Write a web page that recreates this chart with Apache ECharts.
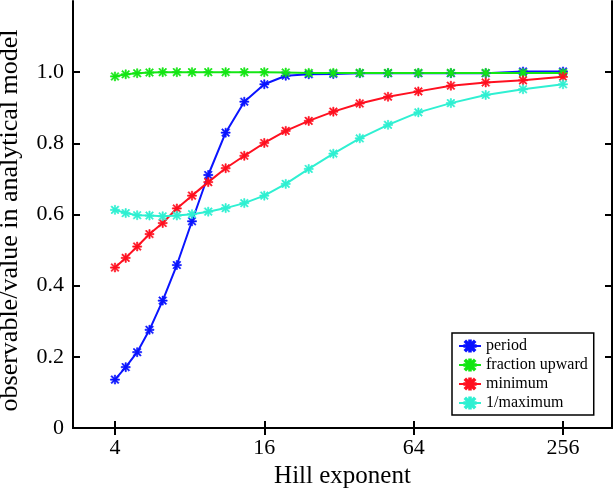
<!DOCTYPE html>
<html>
<head>
<meta charset="utf-8">
<script src="https://cdn.jsdelivr.net/npm/echarts@6/dist/echarts.min.js"></script>
<style>
  html, body { margin: 0; padding: 0; background: #fff; }
  #chart { width: 614px; height: 489px; }
</style>
</head>
<body>
<div id="chart"></div>
<script>
// Hill exponents sampled (log-log spaced)
const hill = [4, 4.419, 4.916, 5.511, 6.229, 7.103, 8.177, 9.508, 11.175, 13.288, 16,
  19.52, 24.16, 30.37, 38.80, 50.45, 66.85, 90.39, 124.9, 176.6, 256]

const period = [0.136, 0.171, 0.213, 0.276, 0.358, 0.458, 0.581, 0.711, 0.830, 0.917, 0.966,
  0.990, 0.994, 0.995, 0.997, 0.997, 0.997, 0.997, 0.997, 1.002, 1.002]
const fractionUpward = [0.988, 0.994, 0.997, 0.999, 1.0, 1.0, 1.0, 1.0, 1.0, 1.0, 1.0,
  0.999, 0.998, 0.998, 0.998, 0.998, 0.998, 0.998, 0.998, 0.998, 0.998]
const minimum = [0.451, 0.478, 0.510, 0.545, 0.576, 0.617, 0.653, 0.691, 0.730, 0.765, 0.801,
  0.835, 0.863, 0.889, 0.912, 0.931, 0.946, 0.962, 0.971, 0.977, 0.987]
const invMaximum = [0.613, 0.604, 0.598, 0.597, 0.595, 0.597, 0.601, 0.608, 0.618, 0.632, 0.653,
  0.686, 0.728, 0.771, 0.814, 0.852, 0.887, 0.913, 0.936, 0.952, 0.966]

const xTicks = [4, 16, 64, 256]
const yTicks = [0, 0.2, 0.4, 0.6, 0.8, 1.0]

const font = 'Liberation Serif'
// asterisk marker (plus + cross)
const star = 'path://M4.3,0h1.4v10h-1.4z M0,4.3h10v1.4h-10z' +
  ' M1.5,0.5L9.5,8.5L8.5,9.5L0.5,1.5z M8.5,0.5L9.5,1.5L1.5,9.5L0.5,8.5z'

function pts(vals) {
  return vals.map((v, i) => [Math.log2(hill[i]), v])
}
function line(name, vals, color) {
  return {
    name: name,
    type: 'line',
    data: pts(vals),
    symbol: star,
    symbolSize: 9,
    showSymbol: true,
    lineStyle: { color: color, width: 2 },
    itemStyle: { color: color, borderColor: color, borderWidth: 0.6 },
    emphasis: { disabled: true },
    z: 3
  }
}

const chart = echarts.init(document.getElementById('chart'))
const xBase = {
  type: 'value',
  min: 1.438,
  max: 8.656,
  axisLine: { lineStyle: { color: '#000', width: 2 } },
  axisTick: { inside: true, length: 7, lineStyle: { color: '#000', width: 2 }, customValues: xTicks.map(Math.log2) },
  splitLine: { show: false }
}
const yBase = {
  type: 'value',
  min: 0,
  max: 1.2,
  axisLine: { lineStyle: { color: '#000', width: 2 } },
  axisTick: { inside: true, length: 7, lineStyle: { color: '#000', width: 2 }, customValues: yTicks },
  splitLine: { show: false }
}

chart.setOption({
  animation: false,
  backgroundColor: '#fff',
  grid: { left: 73, right: 2, top: 1, bottom: 61, outerBoundsMode: 'none', containLabel: false },
  legend: {
    orient: 'vertical',
    left: 452,
    top: 333,
    itemWidth: 22,
    itemHeight: 14,
    itemGap: 3,
    padding: [5, 6, 4, 6],
    borderColor: '#000',
    borderWidth: 1.5,
    backgroundColor: '#fff',
    textStyle: { fontFamily: font, fontSize: 16, color: '#000' },
    data: ['period', 'fraction upward', 'minimum', '1/maximum']
  },
  xAxis: [
    Object.assign({}, xBase, {
      position: 'bottom',
      name: 'Hill exponent',
      nameLocation: 'middle',
      nameGap: 35,
      nameTextStyle: { fontFamily: font, fontSize: 25, color: '#000' },
      axisLabel: {
        customValues: xTicks.map(Math.log2),
        margin: 9,
        fontFamily: font, fontSize: 22, color: '#000',
        formatter: v => String(Math.round(Math.pow(2, v)))
      }
    }),
    Object.assign({}, xBase, { position: 'top', axisLabel: { show: false } })
  ],
  yAxis: [
    Object.assign({}, yBase, {
      position: 'left',
      name: 'observable/value in analytical model',
      nameLocation: 'middle',
      nameGap: 50,
      nameTextStyle: { fontFamily: font, fontSize: 26, color: '#000', padding: [0, 12, 0, 0] },
      axisLabel: {
        customValues: yTicks,
        margin: 9,
        fontFamily: font, fontSize: 22, color: '#000',
        formatter: v => v === 0 ? '0' : v.toFixed(1)
      }
    }),
    Object.assign({}, yBase, { position: 'right', axisLabel: { show: false } })
  ],
  series: [
    line('period', period, '#0a14ff'),
    line('fraction upward', fractionUpward, '#14e614'),
    line('minimum', minimum, '#ff1020'),
    line('1/maximum', invMaximum, '#2ff0d2')
  ]
})
</script>
</body>
</html>
